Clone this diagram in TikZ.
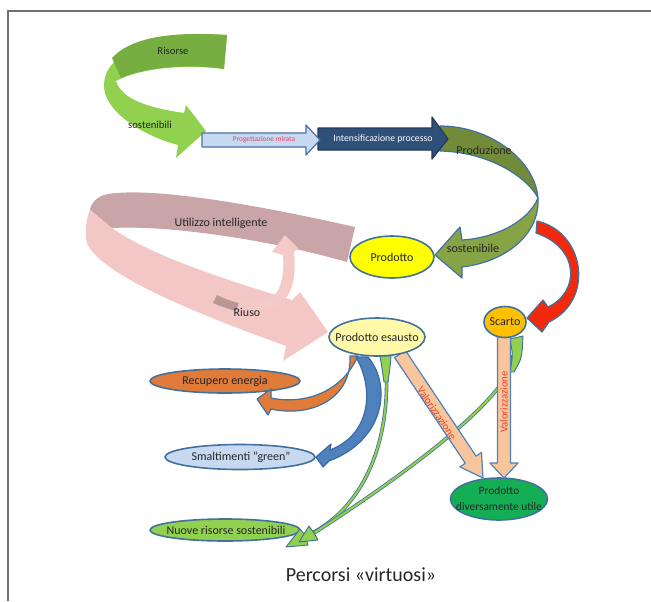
\documentclass[tikz,border=0pt]{standalone}
\usepackage{fontspec}
\setmainfont{Carlito}
\usetikzlibrary{shapes.geometric}
\definecolor{edgeb}{HTML}{41719C}
\definecolor{framec}{HTML}{707070}
\definecolor{txtc}{HTML}{262626}
\definecolor{risdark}{HTML}{77AE42}
\definecolor{rislight}{HTML}{92D050}
\definecolor{progc}{HTML}{C6D9F1}
\definecolor{progedge}{HTML}{4A6FA5}
\definecolor{progtxt}{HTML}{E2406A}
\definecolor{intc}{HTML}{2F5079}
\definecolor{intedge}{HTML}{22395A}
\definecolor{produp}{HTML}{718B39}
\definecolor{prodlow}{HTML}{86A345}
\definecolor{redc}{HTML}{F2290C}
\definecolor{scartoc}{HTML}{FFC000}
\definecolor{prodc}{HTML}{FFFF00}
\definecolor{pinkback}{HTML}{C9A5A7}
\definecolor{pinkfront}{HTML}{F3C7C6}
\definecolor{pinktail}{HTML}{B99796}
\definecolor{esaustoc}{HTML}{FFF9A8}
\definecolor{recupc}{HTML}{E07B39}
\definecolor{smaltc}{HTML}{C6D9F1}
\definecolor{nuovec}{HTML}{92D050}
\definecolor{divc}{HTML}{14AE55}
\definecolor{bluearr}{HTML}{4F81BD}
\definecolor{bluearredge}{HTML}{3A6AA3}
\definecolor{valc}{HTML}{F9C59C}
\definecolor{valtxt}{HTML}{E8412C}
\tikzset{
  lbl/.style={font=\fontsize{9}{10}\selectfont, text=txtc, inner sep=0pt},
  smalllbl/.style={font=\fontsize{8}{9}\selectfont, text=txtc, inner sep=0pt},
  vlbl/.style={font=\fontsize{8}{9}\selectfont, text=valtxt, inner sep=0pt},
  ell/.style={ellipse, draw=edgeb, line width=1.2pt, inner sep=0pt},
  shp/.style={draw=edgeb, line width=0.9pt, line join=round},
  thinarr/.style={draw=edgeb, double=nuovec, double distance=1.5pt, line width=0.6pt},
}
\begin{document}
\begin{tikzpicture}[x=0.75pt,y=-0.75pt]
\useasboundingbox (0,0) rectangle (651,601);
% frame
\coordinate (fa) at (8,601); \coordinate (fb) at (8,11); \coordinate (fc) at (651,11);
\draw[framec, line width=1.1pt] (fa) -- (fb) -- (fc);

% pink ribbon (back band)
\fill[pinkback] (355,227) .. controls (280,210) and (160,186) .. (108,194)
  .. controls (97,196) and (91,203) .. (90,210) -- (112,228)
  .. controls (170,225) and (270,240) .. (347,262) -- cycle;
% pink ribbon (front band with head)
\fill[pinkfront] (90,210) .. controls (85,222) and (85,235) .. (87,243)
  .. controls (100,275) and (200,315) .. (286,346) -- (283,361) -- (328,332)
  -- (300,292) -- (292,300) .. controls (220,278) and (150,255) .. (112,228) -- cycle;
% Riuso small arrow
\fill[pinkfront!95!white] (213,303) .. controls (240,316) and (275,315) .. (288,295)
  .. controls (296,282) and (295,265) .. (294,252) -- (298,248) -- (285,235)
  -- (272,252) -- (283,255) .. controls (284,268) and (283,282) .. (277,292)
  .. controls (265,306) and (240,305) .. (217,295) -- cycle;
\fill[pinktail] (213,303) .. controls (220,306) and (228,309) .. (236,311)
  -- (239,303) .. controls (230,301) and (223,298) .. (217,295) -- cycle;

% Risorse green arrow
\fill[rislight] (227,35) .. controls (150,31) and (103,55) .. (104,86)
  .. controls (104,110) and (140,135) .. (178,145) -- (176,158) -- (206,131)
  -- (186,105) -- (184,113) .. controls (150,108) and (122,100) .. (116,81)
  .. controls (140,68) and (185,64) .. (224,69) -- cycle;
\fill[risdark] (227,35) .. controls (170,31) and (130,38) .. (112,58)
  -- (121,78) .. controls (150,66) and (190,64) .. (224,69) -- cycle;

% red arrow
\filldraw[shp, fill=redc] (537,221) .. controls (585,232) and (595,300) .. (549,322)
  -- (542,332) -- (527,318) -- (543,300) -- (548,307)
  .. controls (580,292) and (580,248) .. (536,233) -- cycle;

% Produzione curved arrow
\filldraw[shp, fill=produp] (440,126) .. controls (490,126) and (535,160) .. (538,198)
  .. controls (528,178) and (490,152) .. (440,151) -- cycle;
\filldraw[shp, fill=prodlow] (538,198) .. controls (540,235) and (505,262) .. (462,267)
  -- (462,278) -- (435,255) -- (460,227) -- (462,240)
  .. controls (495,238) and (528,222) .. (538,198) -- cycle;

% Intensificazione arrow
\filldraw[draw=intedge, line width=0.9pt, line join=round, fill=intc]
  (318,128) -- (432,128) -- (432,117) -- (448,139) -- (432,159) -- (432,150) -- (318,150) -- cycle;
% Progettazione arrow
\filldraw[draw=progedge, line width=0.9pt, line join=round, fill=progc]
  (202,133) -- (306,133) -- (306,125) -- (320,140) -- (306,155) -- (306,147) -- (202,147) -- cycle;

% lower ellipses
\node[ell, fill=recupc, minimum width=112.5pt, minimum height=18pt] (recup) at (225,381) {};
\node[ell, fill=smaltc, minimum width=112.5pt, minimum height=18.75pt] (smalt) at (240,457) {};
\node[ell, fill=nuovec, minimum width=112.5pt, minimum height=16.5pt] (nuove) at (225,530) {};
\node[ell, fill=divc, minimum width=72.75pt, minimum height=31.5pt] (divu) at (499,499) {};

% orange arrow to Recupero energia
\filldraw[shp, fill=recupc] (350,356) .. controls (352,398) and (312,418) .. (271,409)
  -- (268,415) -- (257,399) -- (271,389) -- (271,398)
  .. controls (305,405) and (342,392) .. (358,356) -- cycle;
% blue arrow to Smaltimenti
\filldraw[draw=bluearredge, line width=0.9pt, line join=round, fill=bluearr]
  (368,357) .. controls (392,385) and (385,440) .. (329,461)
  -- (323,467) -- (316,457) -- (331,444) -- (330,450)
  .. controls (370,435) and (375,390) .. (356,357) -- cycle;

% thin green arrow A (from Prodotto esausto)
\draw[thinarr] (386,362) .. controls (392,455) and (355,515) .. (304,537);
\filldraw[shp, line width=0.7pt, fill=nuovec] (380,356) .. controls (382,368) .. (384,382)
  -- (388,382) .. controls (390,368) .. (391,356) -- cycle;
\filldraw[shp, line width=0.7pt, fill=nuovec] (300,529) -- (305,535) -- (308,545) -- (286,547) -- cycle;
% thin green arrow B (from Scarto)
\draw[thinarr] (513,355) .. controls (516,390) and (420,465) .. (314,533);
\filldraw[shp, line width=0.7pt, fill=nuovec] (510,339) .. controls (513,355) .. (510,372)
  -- (514,372) .. controls (522,358) .. (523,336) -- cycle;
\filldraw[shp, line width=0.7pt, fill=nuovec] (309,526) -- (314,533) -- (318,540) -- (299,542) -- cycle;

% Valorizzazione arrows
\filldraw[draw=bluearr, line width=0.9pt, line join=round, fill=valc]
  (394.6,357.6) -- (405.4,350.4) -- (476.1,456.1) -- (481.5,452.5) -- (483,478)
  -- (459.9,466.9) -- (465.3,463.3) -- cycle;
\filldraw[draw=bluearr, line width=0.9pt, line join=round, fill=valc]
  (497.5,330) -- (510.5,330) -- (510.5,463) -- (518,463) -- (504,478)
  -- (490,463) -- (497.5,463) -- cycle;

% upper ellipses
\node[ell, fill=esaustoc, minimum width=72pt, minimum height=28.5pt] (esau) at (377,337) {};
\node[ell, fill=scartoc, minimum width=31.5pt, minimum height=23.25pt] (scarto) at (505,322) {};
\node[ell, fill=prodc, minimum width=63pt, minimum height=31.5pt] (prod) at (392,257) {};

% texts
\node[smalllbl] (trisorse) at (173,51) {Risorse};
\node[smalllbl] (tsost) at (150,125) {sostenibili};
\node[font=\fontsize{5.5}{6}\selectfont, text=progtxt, inner sep=0pt] (tprog) at (264,140) {Progettazione mirata};
\node[font=\fontsize{7.3}{8}\selectfont, text=white, inner sep=0pt] (tint) at (383,139) {Intensificazione processo};
\node[lbl] (tproduz) at (484,150) {Produzione};
\node[lbl] (tsostb) at (473,248) {sostenibile};
\node[lbl] (tprod) at (prod) {Prodotto};
\node[lbl] (tutil) at (221,223) {Utilizzo intelligente};
\node[lbl] (triuso) at (247,312) {Riuso};
\node[lbl] (tesau) at (esau) {Prodotto esausto};
\node[lbl] (tscarto) at (scarto) {Scarto};
\node[lbl] (trecup) at (recup) {Recupero energia};
\node[lbl] (tsmalt) at (241,457) {Smaltimenti “green”};
\node[lbl] (tnuove) at (226,530) {Nuove risorse sostenibili};
\node[font=\fontsize{8.5}{12}\selectfont, text=txtc, inner sep=0pt, align=center] (tdiv) at (divu) {Prodotto\\diversamente utile};
\node[vlbl, rotate=-56] (tval1) at (437,413) {Valorizzazione};
\node[vlbl, rotate=90] (tval2) at (504,402) {Valorizzazione};
\node[font=\fontsize{15}{18}\selectfont, text=txtc, inner sep=0pt] (title) at (361,575) {Percorsi «virtuosi»};
\end{tikzpicture}
\end{document}
